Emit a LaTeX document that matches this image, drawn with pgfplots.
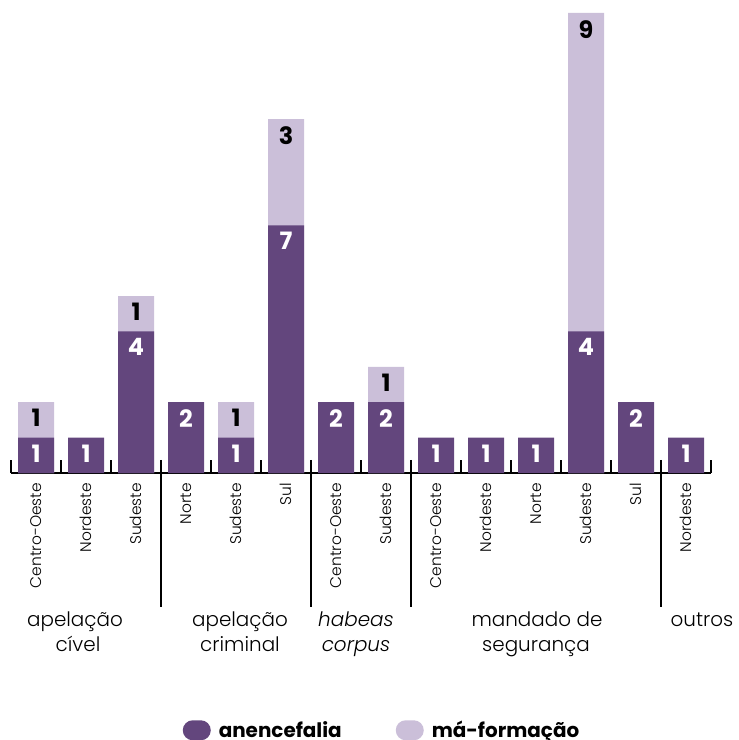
\documentclass[border=0pt]{standalone}
\usepackage{fontspec}
\setmainfont{Poppins}[UprightFont={* Light}, ItalicFont={* Light Italic}, BoldFont={* Bold}]
\usepackage{pgfplots}
\pgfplotsset{compat=1.18}
\definecolor{anen}{HTML}{63467D}
\definecolor{mafo}{HTML}{CBBFD9}
\begin{document}
\begin{tikzpicture}
\useasboundingbox (0,0) rectangle (739bp,740bp);
\begin{axis}[
  at={(11bp,267bp)}, anchor=south west,
  scale only axis, width=700bp, height=460bp,
  xmin=-0.5, xmax=13.5, ymin=0, ymax=13,
  axis x line*=bottom, axis y line=none,
  axis line style={line width=2bp, black},
  ybar, bar width=36bp, bar shift=0pt,
  xtick={0,...,13},
  xticklabels={Centro-Oeste,Nordeste,Sudeste,Norte,Sudeste,Sul,Centro-Oeste,Sudeste,Centro-Oeste,Nordeste,Norte,Sudeste,Sul,Nordeste},
  xticklabel style={rotate=90, anchor=east, inner sep=0pt, font=\fontsize{15.5}{18}\selectfont},
  xticklabel shift=10bp,
  major tick length=0pt,
  extra x ticks={-0.5,0.5,...,13.5},
  extra x tick labels={},
  extra x tick style={major tick length=13bp, tick align=inside, tick style={line width=2bp, black}},
  clip=false,
  legend columns=2,
  legend image code/.code={\fill[#1, rounded corners=10bp] (0bp,-10.5bp) rectangle (28bp,9.5bp);},
  legend style={draw=none, fill=none, inner sep=0pt, at={(0.5286,-0.5593)}, anchor=center,
    font=\fontsize{20}{20}\bfseries, nodes={inner sep=0pt},
    /tikz/every odd column/.append style={column sep=8bp},
    /tikz/every even column/.append style={column sep=54bp}},
  nodes near coords,
  point meta=explicit symbolic,
  every node near coord/.append style={anchor=north, yshift=-7bp, inner sep=0pt, font=\fontsize{24}{24}\bfseries},
]
% total height (anencefalia + má-formação), label = má-formação count
\addplot[forget plot, fill=mafo, draw=none, every node near coord/.append style={text=black}] coordinates {
(0,2)[1] (2,5)[1] (4,2)[1] (5,10)[3] (7,3)[1] (11,13)[9]};
% anencefalia
\addplot[forget plot, fill=anen, draw=none, every node near coord/.append style={text=white}] coordinates {
(0,1)[1] (1,1)[1] (2,4)[4] (3,2)[2] (4,1)[1] (5,7)[7] (6,2)[2] (7,2)[2] (8,1)[1] (9,1)[1] (10,1)[1] (11,4)[4] (12,2)[2] (13,1)[1]};
\addlegendimage{fill=anen, draw=none}
\addlegendimage{fill=mafo, draw=none}
\legend{anencefalia, má-formação}
\foreach \s in {2.5,5.5,7.5,12.5}{
  \edef\tmp{\noexpand\draw[line width=2bp, black] ([yshift=13bp]axis cs:\s,0) -- ([yshift=-134bp]axis cs:\s,0);}
  \tmp
}
\end{axis}
\begin{scope}[every node/.style={anchor=base, inner sep=0pt, font=\fontsize{20}{20}\selectfont}]
\node at (75bp,113bp) {apelação};
\node at (78bp,88bp) {cível};
\node at (240bp,113bp) {apelação};
\node at (240bp,88bp) {criminal};
\node at (356bp,113bp) {\itshape habeas};
\node at (356bp,88bp) {\itshape corpus};
\node at (537bp,113bp) {mandado de};
\node at (536bp,88bp) {segurança};
\node at (702bp,113bp) {outros};
\end{scope}
\end{tikzpicture}
\end{document}
